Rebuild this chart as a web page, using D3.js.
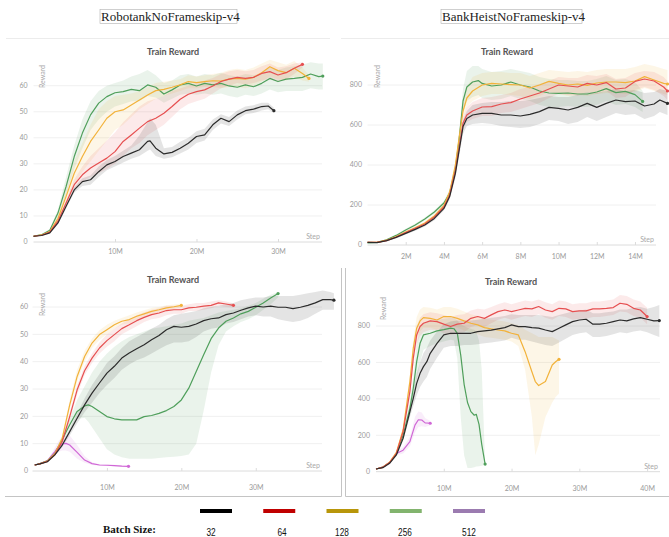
<!DOCTYPE html>
<html>
<head>
<meta charset="utf-8">
<script src="https://cdn.jsdelivr.net/npm/d3@7"></script>
<style>
  body { margin: 0; background: #fff; }
  svg { display: block; }
</style>
</head>
<body>
<div id="chart"></div>
<script>
/* DATA: each row is [step (M), lower, mean, upper] */

// Robotank, top panel
const rtTop32 = [[0,2,2.2,2.4],[1,2.3,2.5,2.7],[2,3.2,3.5,3.8],[3,6.8,7.3,7.8],[4,13,13.7,14.5],[5,19,20,21],[6,21.5,23.2,24.5],[7,22,23.9,25.5],[8,25,27,29],[9,27.5,29.6,31.5],[10,29,30.9,33],[11,30.5,32.8,35],[12,32,34.1,37],[13,33,35.4,41],[14,35,38.6,46],[14.3,35.5,38.8,47.5],[15,33,36,45],[16,32,33.8,36],[17,32.5,34.4,36.5],[18,34,36,38.5],[19,35.5,37.9,40],[20,38,40.5,42.5],[21,39,41.1,43.5],[22,43,45,47],[23,45.5,47.5,49],[24,44.5,46.2,48],[25,47,48.8,50.5],[26,49,50.4,52],[27,49.5,51,52.5],[28,50.5,52,53.5],[28.8,51,52.2,53.5],[29.5,49.5,50.4,51.5]];
const rtTop64 = [[0,2,2.2,2.4],[1,2.4,2.6,2.8],[2,3.5,3.8,4.1],[3,7.5,8,8.7],[4,14,15,16],[5,20,22,24],[6,23,25.8,29],[7,25,28.4,33],[8,26.5,30.3,36],[9,28,32.2,39],[10,30,34.7,42],[11,33,38.6,46],[12,36,41.1,49],[13,38,43.7,52],[14,41,46.2,54],[15,43,47.5,55],[16,45,49.4,56],[17,48,52,58],[18,51,54.8,59],[19,53,56.7,60],[20,54,57.7,61],[21,55,58.4,62],[22,57,59.9,63],[23,59,61.6,64.5],[24,60,62.5,65.5],[25,61,63.2,66],[26,60.5,62.8,65.5],[27,61,63.2,66],[28,62,64.7,67.5],[29,62.5,65.4,68.5],[30,61.5,64.1,67],[31,62.5,65,67.5],[32,64.5,66.7,68.5],[33,67,68.2,69]];
const rtTop128 = [[0,2,2.2,2.4],[1,2.5,2.7,2.9],[2,3.7,4,4.3],[3,8,9,10],[4,15,17.5,20],[5,22,26.4,31],[6,27,32.8,38],[7,31,38.6,45],[8,35,43,51],[9,39,47.5,54],[10,43,50,56],[11,45,50.7,56.5],[12,48,52.6,57],[13,51,54.5,58],[14,53,56.4,59.5],[15,55,58.1,61],[16,56,58.6,61.5],[17,57,59.4,62],[18,58,60.3,62.5],[19,59,61.6,64],[20,59,61.2,63.5],[21,59.5,61.6,64],[22,59.5,61.9,64.5],[23,59,61.8,65],[24,59.5,62.5,66],[25,59.5,62.8,66.5],[26,59,62.5,66],[27,60,63.2,67],[28,61.5,65,68.5],[29,63.5,67.3,70],[30,62.5,65.8,69],[31,62,65,68],[32,63.5,66.7,69.5],[33,62,64.7,67],[33.8,61.5,62.8,64]];
const rtTop256 = [[0,2,2.2,2.4],[1,2.5,2.8,3.1],[2,4,4.5,5],[3,9.5,11.1,12.5],[4,18,21.3,25],[5,28,32.8,37],[6,36,41.8,47],[7,43,48.8,54],[8,47,53.3,58],[9,50,55.8,60],[10,52,57.3,61],[11,53,57.7,62],[12,54,58.6,63.5],[13,54,58.1,64.5],[14,56,60.3,66],[15,55.5,59.4,64],[16,53.5,56.8,61],[17,55,58.4,62],[18,56.5,60.3,64],[19,57,60.9,64.5],[20,56.5,59.9,63.5],[21,57,60.9,64.5],[22,56.5,60.3,64],[23,57,60.9,65],[24,56,59.9,64],[25,55.5,59.4,63.5],[26,56.5,60.3,64.5],[27,56,59.6,64],[28,57,60.9,65],[29,58.5,62.8,67],[30,57.5,61.6,66],[31,58,62.5,67],[32,58,62.8,67.5],[33,58,63.2,68],[34,59,64.5,69],[35,58.5,63.5,68.5],[35.5,58.5,63.7,68.5]];

// BankHeist, top panel
const bhTop32 = [[0,10,13,16],[0.5,9,12,15],[1,18,22,26],[1.5,33,38,43],[2,52,58,64],[2.5,71,78,85],[3,92,100,108],[3.5,124,133,142],[4,172,183,194],[4.3,228,242,256],[4.6,335,358,380],[4.8,445,475,505],[5,555,592,625],[5.2,595,633,670],[5.5,605,650,700],[6,610,658,710],[6.5,605,658,715],[7,595,650,715],[7.5,590,650,720],[8,585,645,720],[8.5,590,653,725],[9,605,667,735],[9.5,625,688,745],[10,620,683,740],[10.5,605,675,740],[11,615,688,750],[11.5,640,708,765],[12,620,688,760],[12.5,640,708,770],[13,660,725,780],[13.5,650,717,770],[14,655,720,775],[14.5,630,695,760],[15,645,705,765],[15.3,665,725,780],[15.7,650,708,770]];
const bhTop64 = [[0,10,13,16],[0.5,10,13,16],[1,18,22,26],[1.5,35,40,45],[2,56,62,68],[2.5,76,83,90],[3,97,105,113],[3.5,130,140,150],[4,178,190,202],[4.3,235,250,265],[4.6,350,370,390],[4.8,465,490,515],[5,575,610,640],[5.2,615,650,690],[5.5,630,670,715],[6,645,690,735],[6.5,645,692,740],[7,660,705,750],[7.5,665,712,760],[8,680,730,780],[8.5,695,745,790],[9,710,760,805],[9.5,735,780,820],[10,755,800,840],[10.5,750,795,835],[11,745,790,835],[11.5,765,808,850],[12,755,800,845],[12.5,770,812,855],[13,735,780,830],[13.5,740,785,835],[14,775,818,860],[14.5,790,830,870],[15,775,820,865],[15.5,745,790,840],[15.7,725,770,820]];
const bhTop128 = [[0,10,13,16],[0.5,10,13,16],[1,20,24,28],[1.5,37,42,47],[2,59,65,71],[2.5,79,86,93],[3,102,110,118],[3.5,135,145,155],[4,185,197,209],[4.3,250,265,280],[4.6,380,400,420],[4.8,510,540,570],[5,630,670,710],[5.2,690,735,790],[5.5,720,770,840],[6,745,800,860],[6.5,755,808,865],[7,755,805,865],[7.5,750,802,860],[8,745,800,860],[8.5,730,785,845],[9,745,800,860],[9.5,765,818,875],[10,755,808,870],[10.5,745,800,865],[11,750,805,870],[11.5,745,798,865],[12,755,810,875],[12.5,760,815,880],[13,760,815,880],[13.5,755,812,880],[14,765,820,890],[14.5,785,842,905],[15,770,825,895],[15.5,755,808,880],[15.7,750,805,875]];
const bhTop256 = [[0,7,10,13],[0.5,10,13,16],[1,22,26,30],[1.5,43,48,53],[2,69,75,81],[2.5,93,100,107],[3,122,130,138],[3.5,156,165,174],[4,200,210,220],[4.3,245,260,275],[4.6,355,380,405],[4.8,490,530,570],[5,660,720,780],[5.2,720,790,870],[5.5,740,815,895],[5.8,750,822,895],[6,735,808,880],[6.5,725,795,865],[7,730,800,870],[7.5,745,815,880],[8,730,800,870],[8.5,720,790,860],[9,700,770,840],[9.5,690,760,830],[10,690,758,825],[10.5,695,760,825],[11,690,755,820],[11.5,690,755,820],[12,700,765,830],[12.5,720,782,845],[13,700,762,825],[13.5,705,768,830],[14,690,752,815],[14.4,665,718,770]];

// Robotank, bottom panel
const rtBot32 = [[0.3,2,2.2,2.4],[1,2.4,2.6,2.8],[2,3.1,3.4,3.7],[3,5.4,5.9,6.4],[4,8.8,9.5,10.2],[5,13,14.4,15.5],[6,17.5,19.3,21],[7,21.5,24.2,26.5],[8,25,28.5,31.5],[9,28.5,32.2,35.5],[10,31.5,35.8,39.5],[11,34,38.3,42],[12,37,41.3,45],[13,39,43.2,47.5],[14,40.5,44.7,49],[15,41.5,46.2,50.5],[16,43,48,52],[17,44.5,49.6,53.5],[18,46,51.7,55.5],[19,47,52.9,57],[20,47,52.6,57.5],[21,47.5,52.9,58],[22,49,53.8,58.5],[23,51,55,59.5],[24,52,55.7,60],[25,52.5,56,60.5],[26,54,57.2,61],[27,54.5,57.8,61.5],[28,55.5,58.8,62.5],[29,56.5,59.7,63],[30,57,60.3,63.5],[31,56.5,60,63.5],[32,56.5,60.3,64],[33,55.5,59.9,64],[34,55,59.9,64],[35,54.5,59.4,64],[36,55,59.9,64.5],[37,56,60.6,65],[38,57.5,61.5,65.5],[39,59,62.7,66],[40,59,62.7,65.5],[40.5,59,62.5,65]];
const rtBot64 = [[0.3,2,2.2,2.4],[1,2.4,2.6,2.8],[2,3.2,3.5,3.8],[3,5.5,6,6.5],[4,10,10.8,11.6],[5,18.5,19.9,21.5],[6,28,29.7,31.5],[7,35,36.7,38.5],[8,39.5,41.3,43],[9,43,45,47],[10,45.5,47.7,50],[11,47.5,49.9,52],[12,50,52.1,54],[13,51.5,53.5,55.5],[14,53,55,57],[15,54.5,56.2,58],[16,55.5,57.2,59],[17,56,57.8,59.5],[18,57,58.7,60.5],[19,57.5,59,60.5],[20,57.5,59,60.5],[21,58.5,59.7,61],[22,58.5,59.9,61.5],[23,59,60.3,61.5],[24,59.5,60.6,62],[25,60.5,61.5,62.5],[26,60,61.1,62],[27,59.8,60.6,61.4]];
const rtBot128 = [[0.3,2,2.2,2.4],[1,2.4,2.6,2.8],[2,3.3,3.6,3.9],[3,5.8,6.3,6.8],[4,11,12,13],[5,22.5,24.2,26],[6,32.5,34.6,37],[7,40,41.9,44],[8,45,46.8,48.5],[9,48,49.9,51.5],[10,50,51.7,53.5],[11,52,53.5,55],[12,53.5,54.8,56],[13,54,55.4,57],[14,55.3,56.6,58],[15,56.2,57.5,58.8],[16,57.2,58.4,59.6],[17,58,59,60],[18,58.8,59.7,60.6],[19,59.3,60.1,60.9],[20,59.9,60.6,61.3]];
const rtBot256 = [[0.3,2,2.2,2.4],[1,2.5,2.7,2.9],[2,3.4,3.7,4],[3,5.9,6.4,6.9],[4,10.5,11.5,12.5],[5,15.5,16.9,19],[6,19,21.8,26],[7,19.5,23.8,31],[7.5,18,24.2,33.5],[8,16,23.6,36],[9,12,21.8,40],[10,8,19.9,43],[11,6,19.1,45.5],[12,5,18.7,47.5],[13,4.5,18.7,49],[14,4.5,18.7,50],[15,4.5,19.9,51],[16,4.5,20.3,52],[17,4.8,21.1,52.5],[18,5,22.1,53],[19,5.2,23.6,53.5],[20,5.5,26,54],[21,6,30.3,55],[22,10,36.4,55.5],[23,22,42.5,56],[24,36,48.4,57],[25,46,52.3,58],[26,51,54.8,58.5],[27,53,56,59],[28,54.5,57.5,59.5],[29,55.5,58.4,60.5],[30,57,59.9,61.5],[31,59,61.5,63],[32,61,63.3,64.5],[33,63.5,64.9,65.5]];
const rtBot512 = [[0.3,2,2.2,2.4],[1,2.5,2.7,2.9],[2,3.4,3.7,4],[3,6,7.1,8.5],[3.5,7,9,11],[4,7.5,9.9,12.5],[4.5,7.5,10.1,13],[5,7,9.5,13],[6,4.5,6.8,9.5],[7,3,4,5.5],[8,2.2,2.7,3.2],[9,1.9,2.2,2.5],[10,1.8,2.1,2.4],[11,1.7,2,2.3],[12,1.5,1.8,2.1],[12.9,1.4,1.7,2]];

// BankHeist, bottom panel
const bhBot32 = [[0,12,15,18],[1,18,22,26],[2,40,46,52],[3,84,92,100],[4,170,183,196],[5,300,330,360],[5.5,360,403,440],[6,420,485,540],[6.5,465,540,600],[7,495,577,650],[7.5,520,604,680],[8,565,650,720],[9,625,705,770],[10,680,751,810],[11,690,760,825],[12,690,760,830],[13,695,760,830],[14,695,760,830],[15,700,769,835],[16,705,773,840],[17,710,777,845],[18,715,784,850],[19,720,791,855],[20,735,806,865],[21,725,797,860],[22,725,797,860],[23,715,791,860],[24,705,788,860],[25,695,778,855],[26,690,769,850],[27,710,788,860],[28,730,806,870],[29,750,824,880],[30,760,833,885],[31,765,837,890],[32,740,810,870],[33,740,810,870],[34,745,815,875],[35,755,824,880],[36,765,833,890],[37,760,828,890],[38,770,839,900],[39,775,846,905],[40,765,837,895],[41,750,828,905],[41.8,740,830,915]];
const bhBot64 = [[0,12,15,18],[1,20,25,30],[2,44,50,56],[3,92,100,108],[4,205,220,235],[5,410,440,470],[5.5,580,623,660],[6,700,751,800],[6.5,745,797,845],[7,765,815,865],[8,780,828,875],[9,775,824,870],[10,760,810,860],[11,750,797,850],[12,760,810,860],[13,765,815,865],[14,795,842,885],[15,805,852,895],[16,795,842,890],[17,815,861,905],[18,835,879,920],[19,845,888,930],[20,835,879,920],[21,845,888,930],[22,855,897,940],[23,850,894,935],[24,865,907,945],[25,845,888,930],[26,835,879,920],[27,855,897,940],[28,850,894,935],[29,835,879,920],[30,840,883,925],[31,840,883,925],[32,850,894,935],[33,850,894,935],[34,855,897,940],[35,860,901,945],[36,880,925,970],[37,875,919,965],[38,855,897,945],[39,845,888,935],[40,810,852,900]];
const bhBot128 = [[0,12,15,18],[1,20,24,28],[2,46,52,58],[3,97,105,113],[4,212,229,246],[5,460,495,530],[5.5,630,678,725],[6,730,788,850],[6.5,770,828,890],[7,790,846,905],[8,790,842,900],[9,780,833,890],[10,800,852,905],[11,800,852,905],[12,790,842,895],[13,775,828,880],[14,765,815,865],[15,755,806,855],[16,740,791,840],[17,735,784,835],[18,730,778,830],[19,725,773,825],[20,715,760,815],[21,690,751,805],[22,560,659,780],[23,300,549,760],[23.5,90,495,750],[24,150,473,740],[25,300,495,740],[26,380,586,740],[26.5,410,604,730],[27,430,617,720]];
const bhBot256 = [[0,12,15,18],[1,22,25,28],[2,45,50,55],[3,88,95,102],[4,185,201,217],[5,310,348,390],[5.5,400,458,520],[6,500,604,700],[6.5,600,705,790],[7,670,751,820],[8,690,760,825],[9,705,773,835],[10,715,780,840],[11,725,788,845],[11.5,720,785,845],[12,620,760,830],[12.5,300,640,810],[13,90,480,800],[13.5,20,380,790],[14,20,330,785],[14.5,25,310,780],[14.8,28,315,770],[15.2,30,260,720],[15.6,33,150,560],[16.1,38,42,46]];
const bhBot512 = [[0,12,15,18],[1,21,24,27],[2,44,48,52],[3,90,100,110],[4,100,118,136],[5,140,165,190],[5.75,215,256,300],[6.25,245,285,330],[6.75,250,284,325],[7.25,245,268,295],[8,255,266,278]];

// ticks and labels
const rewardTicks60 = [0, 10, 20, 30, 40, 50, 60];
const rewardTicks800 = [0, 200, 400, 600, 800];
const stepTicksTopRt = [10, 20, 30];
const stepTicksTopBh = [2, 4, 6, 8, 10, 12, 14];
const stepTicksBotRt = [10, 20, 30];
const stepTicksBotBh = [10, 20, 30, 40];
const batchSizes = ["32", "64", "128", "256", "512"];
const lineColors = ["#2b2b2b", "#e64f50", "#f2b23a", "#4f9f5b", "#d067d6"];
const legendColors = ["#000000", "#c00000", "#b8960a", "#82b46e", "#9b7bb0"];
const gameTitles = ["RobotankNoFrameskip-v4", "BankHeistNoFrameskip-v4"];

/* DRAW */
const svg = d3.select("#chart").append("svg")
    .attr("width", 669)
    .attr("height", 537);

// frames and separators
const frame = svg.append("g").attr("stroke", "#d8d8d8").attr("stroke-width", 1).attr("fill", "none");
frame.append("line").attr("x1", 6).attr("x2", 330).attr("y1", 38.5).attr("y2", 38.5).attr("stroke", "#ececec");
frame.append("line").attr("x1", 341).attr("x2", 669).attr("y1", 38.5).attr("y2", 38.5).attr("stroke", "#ececec");
frame.append("path").attr("d", "M5,496.5 H341.5 V268").attr("stroke", "#c4c4c4");
frame.append("path").attr("d", "M345.5,268 V496.5 H669").attr("stroke", "#c4c4c4");

// game title boxes
[[100, 137], [441, 141]].forEach(([x, w], i) => {
    svg.append("rect").attr("x", x).attr("y", 9.5).attr("width", w).attr("height", 14)
        .attr("fill", "none").attr("stroke", "#b0b0b0").attr("stroke-width", 0.6);
    svg.append("text").attr("x", x + 1).attr("y", 21)
        .style("font-family", "'Liberation Serif', 'Times New Roman', serif")
        .style("font-size", "13px").attr("fill", "#222")
        .text(gameTitles[i]);
});

function drawPanel(cfg) {
    const x = d3.scaleLinear().domain(cfg.xDomain).range(cfg.xRange);
    const y = d3.scaleLinear().domain(cfg.yDomain).range(cfg.yRange);
    const g = svg.append("g");
    const font = "Lato, 'Open Sans', sans-serif";

    // grid
    g.selectAll(".grid").data(cfg.yTicks.filter(d => d > 0)).enter().append("line")
        .attr("x1", cfg.xRange[0]).attr("x2", cfg.xRange[1])
        .attr("y1", d => y(d)).attr("y2", d => y(d))
        .attr("stroke", "#f0f0f0").attr("stroke-width", 1);

    // x axis
    const xAxis = g.append("g").attr("transform", `translate(0,${y(0)})`)
        .call(d3.axisBottom(x).tickValues(cfg.xTicks).tickFormat(d => d + "M").tickSize(3).tickPadding(cfg.xPad));
    xAxis.select(".domain").attr("stroke", "#dcdcdc").attr("d", `M${cfg.xRange[0]},0H${cfg.xRange[1]}`);
    xAxis.selectAll(".tick line").attr("stroke", "#dcdcdc").attr("y1", -3).attr("y2", 0);
    xAxis.selectAll(".tick text").attr("fill", "#9a9a9a").style("font-family", font).style("font-size", "7px");

    // y labels
    g.selectAll(".ylab").data(cfg.yTicks).enter().append("text")
        .attr("x", cfg.yLabelX).attr("y", d => y(d)).attr("dy", "0.35em")
        .attr("text-anchor", "end").attr("fill", "#9a9a9a")
        .style("font-family", font).style("font-size", "7px")
        .text(d => d);

    // bands then lines
    const area = d3.area().x(d => x(d[0])).y0(d => y(d[1])).y1(d => y(d[3]));
    const line = d3.line().x(d => x(d[0])).y(d => y(d[2]));
    const order = cfg.series.map((s, i) => i).reverse();
    order.forEach(i => {
        g.append("path").datum(cfg.series[i]).attr("d", area)
            .attr("fill", lineColors[i]).attr("fill-opacity", i === 0 ? 0.13 : 0.12);
    });
    order.forEach(i => {
        const s = cfg.series[i];
        g.append("path").datum(s).attr("d", line)
            .attr("fill", "none").attr("stroke", lineColors[i]).attr("stroke-width", 1.2)
            .attr("stroke-linejoin", "round");
        const last = s[s.length - 1];
        g.append("circle").attr("cx", x(last[0])).attr("cy", y(last[2])).attr("r", 1.6)
            .attr("fill", lineColors[i]);
    });

    // titles
    g.append("text").attr("x", cfg.titleX).attr("y", cfg.titleY).attr("text-anchor", "middle")
        .attr("fill", "#555").style("font-family", font).style("font-weight", "bold").style("font-size", "9px")
        .text("Train Reward");
    g.append("text").attr("transform", `translate(${cfg.rewardX},${cfg.rewardY}) rotate(-90)`)
        .attr("text-anchor", "end").attr("fill", "#a8a8a8")
        .style("font-family", font).style("font-size", "7px").text("Reward");
    g.append("text").attr("x", cfg.xRange[1] - 2).attr("y", y(0) - 3).attr("text-anchor", "end")
        .attr("fill", "#a8a8a8").style("font-family", font).style("font-size", "7px").text("Step");
}

drawPanel({ series: [rtTop32, rtTop64, rtTop128, rtTop256], xDomain: [0, 35.4], xRange: [33.5, 322],
    yDomain: [0, 60], yRange: [242, 85.7], yTicks: rewardTicks60, xTicks: stepTicksTopRt, xPad: 4,
    yLabelX: 27.5, titleX: 173, titleY: 55, rewardX: 44.5, rewardY: 65 });
drawPanel({ series: [bhTop32, bhTop64, bhTop128, bhTop256], xDomain: [0, 15.1], xRange: [367.5, 656],
    yDomain: [0, 800], yRange: [245, 85], yTicks: rewardTicks800, xTicks: stepTicksTopBh, xPad: 6,
    yLabelX: 362, titleX: 507, titleY: 55, rewardX: 380, rewardY: 65 });
drawPanel({ series: [rtBot32, rtBot64, rtBot128, rtBot256, rtBot512], xDomain: [0, 38.9], xRange: [32.5, 322],
    yDomain: [0, 60], yRange: [471, 307], yTicks: rewardTicks60, xTicks: stepTicksBotRt, xPad: 11,
    yLabelX: 28, titleX: 173, titleY: 283, rewardX: 44.5, rewardY: 293 });
drawPanel({ series: [bhBot32, bhBot64, bhBot128, bhBot256, bhBot512], xDomain: [0, 41.9], xRange: [376, 660],
    yDomain: [0, 800], yRange: [471.7, 326], yTicks: rewardTicks800, xTicks: stepTicksBotBh, xPad: 11,
    yLabelX: 370, titleX: 511, titleY: 285, rewardX: 386, rewardY: 297 });

// legend
const legendX = d3.scalePoint().domain(batchSizes).range([216, 469]);
svg.append("text").attr("x", 103).attr("y", 533)
    .style("font-family", "'Liberation Serif', 'Times New Roman', serif")
    .style("font-weight", "bold").style("font-size", "11px").attr("fill", "#111")
    .text("Batch Size:");
svg.selectAll(".sw").data(batchSizes).enter().append("rect")
    .attr("x", d => legendX(d) - 16).attr("y", 509).attr("width", 32).attr("height", 4)
    .attr("fill", (d, i) => legendColors[i]);
svg.selectAll(".lab").data(batchSizes).enter().append("text")
    .attr("transform", (d, i) => `translate(${[211, 282, 342, 405, 469][i]},536) scale(0.72,1)`)
    .attr("text-anchor", "middle").attr("fill", "#111")
    .style("font-family", "'Liberation Sans', Arial, sans-serif").style("font-size", "11.5px")
    .text(d => d);
</script>
</body>
</html>
